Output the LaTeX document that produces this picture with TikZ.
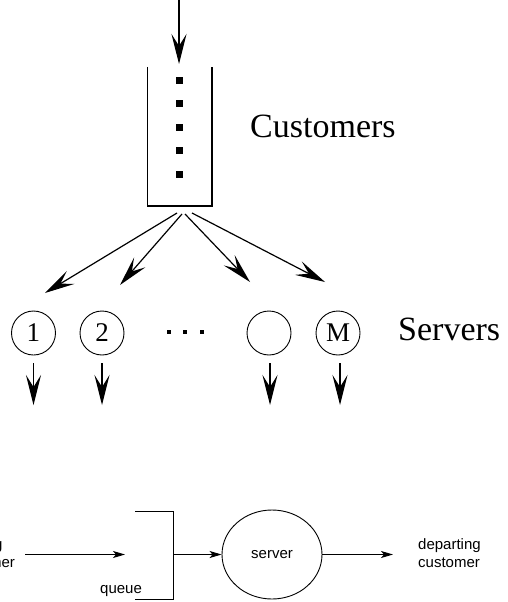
\documentclass[tikz,border=0pt]{standalone}
\usepackage{fontspec}
\setmainfont{Liberation Serif}
\newfontfamily\sansf{Liberation Sans}
\usetikzlibrary{arrows.meta,shapes.geometric}
\begin{document}
\begin{tikzpicture}[x=1pt,y=-1pt,
  bigarrow/.style={line width=1.2pt,-{Stealth[length=30pt,width=15pt,inset=12pt]}},
  smallarrow/.style={line width=0.9pt,-{Stealth[length=12pt,width=7pt,inset=3pt]}},
  srvcircle/.style={circle,draw,line width=0.9pt,minimum size=44pt,inner sep=0pt,font=\fontsize{27}{30}\selectfont},
  bigtext/.style={anchor=base west,inner sep=0pt,font=\fontsize{34}{40}\selectfont},
  smalltext/.style={anchor=base west,inner sep=0pt,font=\sansf\fontsize{15}{18}\selectfont},
  qdot/.style={fill=black}
]
\clip (0,0) rectangle (508,602);
% ---------- top: multi-server queue ----------
\coordinate (in) at (179,0);
\coordinate (qtop) at (179,64);
\draw[bigarrow] (in) -- (qtop);
\draw[line width=1.2pt] (147.5,67) -- (147.5,206) -- (212,206) -- (212,67);
\foreach \y in {80,103,127,150,174}{
  \fill[qdot] (175.5,\y-3.5) rectangle (182.5,\y+3.5);
}
\node[bigtext] (cust) at (250,137) {Customers};

\coordinate (f1) at (177,213);
\coordinate (f2) at (182,214);
\coordinate (f3) at (185,214);
\coordinate (f4) at (192,213);
\coordinate (t1) at (45,293);
\coordinate (t2) at (120,285);
\coordinate (t3) at (250,282);
\coordinate (t4) at (325,282);
\draw[bigarrow] (f1) -- (t1);
\draw[bigarrow] (f2) -- (t2);
\draw[bigarrow] (f3) -- (t3);
\draw[bigarrow] (f4) -- (t4);

\node[srvcircle] (s1) at (33.5,333) {1};
\node[srvcircle] (s2) at (102,333) {2};
\node[srvcircle] (s3) at (269,333) {};
\node[srvcircle] (s4) at (338,333) {M};
\foreach \x in {169,185,202}{
  \fill (\x-1.6,330.4) rectangle (\x+1.6,333.6);
}
\node[bigtext] (srvs) at (398,340) {Servers};

\coordinate (d1) at (33.5,405);
\coordinate (d2) at (102,405);
\coordinate (d3) at (270,405);
\coordinate (d4) at (340,405);
\draw[bigarrow,shorten <=8pt] (s1.south) -- (d1);
\draw[bigarrow,shorten <=8pt] (s2.south) -- (d2);
\draw[bigarrow,shorten <=8pt] (270,355) -- (d3);
\draw[bigarrow,shorten <=8pt] (340,355) -- (d4);

% ---------- bottom: single-server queue ----------
\node[smalltext] (arr1) at (-47,549) {arriving};
\node[smalltext] (arr2) at (-47,567) {customer};
\coordinate (a0) at (25,554.5);
\coordinate (a1) at (125,554.5);
\draw[smallarrow] (a0) -- (a1);
\draw[line width=0.9pt] (135,511) -- (173,511) -- (173,599) -- (135,599);
\node[smalltext] (qlab) at (100,593) {queue};
\coordinate (qout) at (173,554.5);
\node[ellipse,draw,line width=0.9pt,minimum width=100pt,minimum height=89pt,inner sep=0pt,font=\sansf\fontsize{15}{18}\selectfont] (server) at (272,554.5) {server};
\draw[smallarrow] (qout) -- (server.west);
\coordinate (dep) at (393,554.5);
\draw[smallarrow] (server.east) -- (dep);
\node[smalltext] (dep1) at (418,549) {departing};
\node[smalltext] (dep2) at (418,567) {customer};
\end{tikzpicture}
\end{document}
